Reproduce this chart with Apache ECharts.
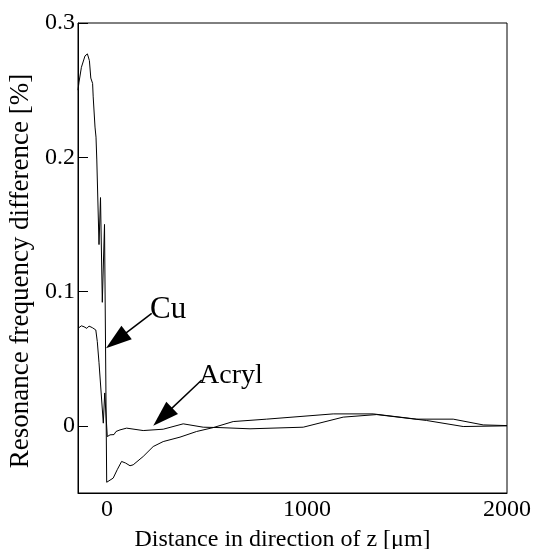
<!DOCTYPE html>
<html><head><meta charset="utf-8">
<script src="https://cdn.jsdelivr.net/npm/echarts@6/dist/echarts.min.js"></script>
<style>html,body{margin:0;padding:0;background:#fff}#c{width:534px;height:549px}</style>
</head><body><div id="c"></div>
<script>
const cuX = [-145, -140, -128, -110, -98, -88, -81, -76, -72, -69, -60, -55, -51, -40, -32.5, -23.5, -12.5, -1.5, 2, 31, 51, 73, 93, 115, 131, 181, 231, 281, 365, 448, 531, 631, 798, 1131, 1331, 1548, 1731, 1881, 2000];
const cuY = [0.250, 0.256, 0.267, 0.2755, 0.277, 0.272, 0.259, 0.260, 0.255, 0.245, 0.2225, 0.215, 0.198, 0.135, 0.170, 0.092, 0.150, -0.042, -0.0414, -0.0389, -0.0327, -0.0265, -0.0277, -0.0297, -0.029, -0.0228, -0.0154, -0.0117, -0.0084, -0.0042, -0.0013, 0.0032, 0.005, 0.0089, 0.0089, 0.005, 0.005, 0.0007, 0.0002];
const acX = [-145, -140, -128, -115, -101, -90, -73, -56, -48.5, -40, -18.5, -11.5, 1.5, 15, 25, 35, 45, 55, 65, 98, 181, 281, 381, 481, 565, 715, 981, 1181, 1348, 1598, 1781, 2000];
const acY = [0.0726, 0.0726, 0.0745, 0.0738, 0.0726, 0.0743, 0.0731, 0.0714, 0.0627, 0.047, 0.002, 0.0245, -0.008, -0.0067, -0.0057, -0.0065, -0.0042, -0.0047, -0.003, -0.0017, -0.0035, -0.0025, 0.0015, -0.001, -0.0013, -0.0022, -0.001, 0.0065, 0.0084, 0.004, -0.0005, 0];
const xTicks = [0, 1000, 2000];
const xTickLabels = ['0', '1000', '2000'];
const yTicks = [0, 0.1, 0.2, 0.3];
const yTickLabels = ['0', '0.1', '0.2', '0.3'];
const cuArrow = [[223.5, 0.0838], [46.5, 0.0636]];
const acArrow = [[473.5, 0.0342], [278.5, 0.0067]];
const cuText = [215, 0.0862];
const acText = [460, 0.0375];

const FONT = 'Liberation Serif';
const pairs = (xs, ys) => xs.map((x, i) => [x, ys[i]]);
const pick = (ticks, labels) => v => { const i = ticks.findIndex(t => Math.abs(t - v) < 1e-9); return i >= 0 ? labels[i] : ''; };
const chart = echarts.init(document.getElementById('c'), null, {renderer: 'canvas'});
function arrowMark(a) {
  return {
    silent: true,
    symbol: ['none', 'triangle'],
    symbolSize: [17, 26],
    lineStyle: {color: '#000', width: 1.5, type: 'solid'},
    itemStyle: {color: '#000'},
    label: {show: false},
    animation: false,
    data: [[{coord: a[0]}, {coord: a[1]}]]
  };
}
function textMark(t, s, size) {
  return {
    silent: true,
    symbol: 'circle', symbolSize: 0,
    itemStyle: {color: 'transparent'},
    label: {show: true, position: 'inside', align: 'left', verticalAlign: 'middle', formatter: s,
      color: '#000', fontFamily: FONT, fontSize: size},
    data: [{coord: t}]
  };
}
chart.setOption({
  animation: false,
  backgroundColor: '#fff',
  grid: {left: 78, right: 27, top: 23, bottom: 56, outerBoundsMode: 'none', containLabel: false,
    show: true, borderColor: '#000', borderWidth: 1, backgroundColor: 'transparent'},
  xAxis: {
    type: 'value', min: -145, max: 2000,
    name: 'Distance in direction of z [\u03bcm]', nameLocation: 'middle', nameGap: 35, nameMoveOverlap: false,
    nameTextStyle: {fontFamily: FONT, fontSize: 24, color: '#000', padding: [0, 20, 0, 0]},
    axisLine: {show: true, onZero: false, lineStyle: {color: '#000', width: 1}},
    axisTick: {show: false},
    splitLine: {show: false},
    axisLabel: {customValues: xTicks, fontFamily: FONT, fontSize: 24, color: '#000', margin: 5,
      formatter: pick(xTicks, xTickLabels)}
  },
  yAxis: {
    type: 'value', min: -0.05, max: 0.3,
    name: 'Resonance frequency difference [%]', nameLocation: 'middle', nameGap: 44, nameMoveOverlap: false,
    nameTextStyle: {fontFamily: FONT, fontSize: 27, color: '#000', padding: [0, 26, 0, 0]},
    axisLine: {show: true, onZero: false, lineStyle: {color: '#000', width: 1}},
    axisTick: {show: true, inside: true, length: 10, customValues: yTicks, lineStyle: {color: '#000'}},
    splitLine: {show: false},
    axisLabel: {customValues: yTicks, fontFamily: FONT, fontSize: 24, color: '#000', margin: 3,
      formatter: pick(yTicks, yTickLabels)}
  },
  series: [
    {name: 'Cu', type: 'line', data: pairs(cuX, cuY), showSymbol: false, symbol: 'none',
      lineStyle: {color: '#000', width: 1}, markLine: arrowMark(cuArrow), markPoint: textMark(cuText, 'Cu', 31)},
    {name: 'Acryl', type: 'line', data: pairs(acX, acY), showSymbol: false, symbol: 'none',
      lineStyle: {color: '#000', width: 1}, markLine: arrowMark(acArrow), markPoint: textMark(acText, 'Acryl', 28)}
  ]
});
</script>
</body></html>
